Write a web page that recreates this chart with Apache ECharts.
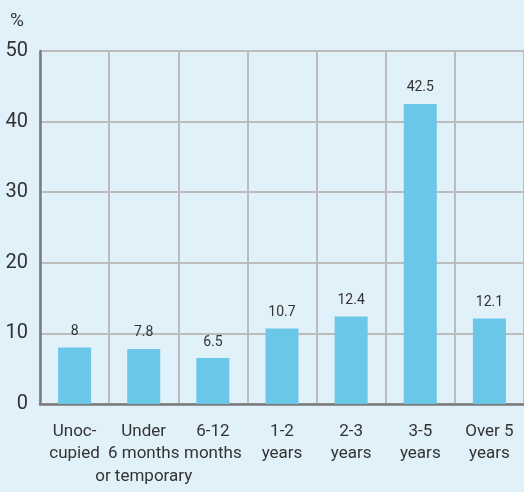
<!DOCTYPE html>
<html>
<head>
<meta charset="utf-8">
<script src="https://cdn.jsdelivr.net/npm/echarts@6/dist/echarts.min.js"></script>
<style>
  html, body { margin: 0; padding: 0; background: #e0f1fa; }
  #chart { width: 524px; height: 492px; }
</style>
</head>
<body>
<div id="chart"></div>
<script>
const categories = ["Unoc-\ncupied", "Under\n6 months\nor temporary", "6-12\nmonths", "1-2\nyears", "2-3\nyears", "3-5\nyears", "Over 5\nyears"];
const values = [8, 7.8, 6.5, 10.7, 12.4, 42.5, 12.1];
const yTicks = [0, 10, 20, 30, 40, 50];

const font = "Roboto, sans-serif";
const chart = echarts.init(document.getElementById("chart"));

const option = {
  backgroundColor: "#e0f1fa",
  animation: false,
  grid: { left: 40, right: -3, top: 51, bottom: 88 },
  graphic: [
    {
      type: "text",
      left: 10,
      top: 12,
      style: { text: "%", fontSize: 19, fontFamily: font, fill: "#333" }
    }
  ],
  xAxis: {
    type: "category",
    data: categories,
    axisLine: { lineStyle: { color: "#7a7a7a", width: 2.5 } },
    axisTick: { show: false },
    splitLine: { show: true, lineStyle: { color: "#bcbcbc", width: 2 } },
    axisLabel: {
      interval: 0,
      margin: 16,
      color: "#333",
      fontFamily: font,
      fontSize: 17,
      lineHeight: 22.5
    }
  },
  yAxis: {
    type: "value",
    min: 0,
    max: 50,
    interval: 10,
    axisLine: { show: true, lineStyle: { color: "#7a7a7a", width: 2.5 } },
    axisTick: { show: false },
    splitLine: { lineStyle: { color: "#bcbcbc", width: 2 } },
    axisLabel: {
      margin: 12,
      color: "#333",
      fontFamily: font,
      fontSize: 20,
      formatter: v => (yTicks.includes(v) ? String(v) : "")
    }
  },
  series: [
    {
      type: "bar",
      data: values,
      barWidth: 33,
      itemStyle: { color: "#6ac7e7" },
      label: {
        show: true,
        position: "top",
        distance: 9,
        color: "#333",
        fontFamily: font,
        fontSize: 14
      }
    }
  ]
};
chart.setOption(option);
</script>
</body>
</html>
